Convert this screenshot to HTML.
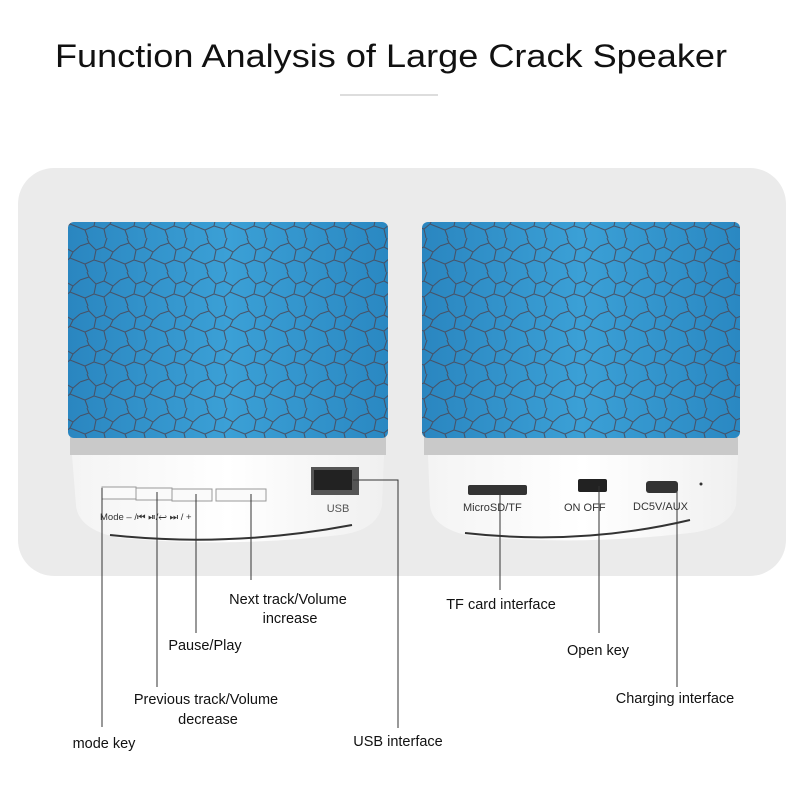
<!DOCTYPE html>
<html><head><meta charset="utf-8"><style>
html,body{margin:0;padding:0;background:#fff;}
svg{display:block;}
</style></head><body>
<svg width="800" height="800" viewBox="0 0 800 800" xmlns="http://www.w3.org/2000/svg" font-family="Liberation Sans, sans-serif">
<defs>
<linearGradient id="blue" x1="0" x2="1" y1="0" y2="0">
<stop offset="0" stop-color="#2a86c0"/><stop offset="0.5" stop-color="#3ba0d6"/><stop offset="1" stop-color="#2a88c2"/>
</linearGradient>
<pattern id="crack" width="40" height="34" patternUnits="userSpaceOnUse">
<path d="M0 8 L9 5 L16 12 L24 9 L33 14 L40 8 M9 5 L7 0 M16 12 L14 22 L5 26 L0 24 M14 22 L24 25 L30 20 L33 14 M24 25 L26 34 M30 20 L40 24 M5 26 L8 34 M24 9 L27 0" stroke="#4a4a5a" stroke-width="1.1" fill="none" opacity="0.85"/>
</pattern>
<linearGradient id="base" x1="0" x2="1"><stop offset="0" stop-color="#f4f4f4"/><stop offset="0.5" stop-color="#fff"/><stop offset="1" stop-color="#f0f0f0"/></linearGradient>
</defs>
<rect width="800" height="800" fill="#fff"/>
<text x="391" y="67" font-size="32" text-anchor="middle" textLength="672" lengthAdjust="spacingAndGlyphs" fill="#111">Function Analysis of Large Crack Speaker</text>
<line x1="340" y1="95" x2="438" y2="95" stroke="#bbb" stroke-width="1"/>
<rect x="18" y="168" width="768" height="408" rx="36" fill="#ebebeb"/>

<!-- left speaker -->
<path d="M72 455 L384 455 L382 505 Q378 530 340 535 Q230 548 120 538 Q78 530 76 505 Z" fill="url(#base)"/>
<path d="M110 535 Q230 548 352 525" stroke="#333" stroke-width="2" fill="none"/>
<rect x="70" y="437" width="316" height="18" fill="#c9c9c9"/>
<rect x="68" y="222" width="320" height="216" rx="6" fill="url(#blue)"/>
<rect x="68" y="222" width="320" height="216" rx="6" fill="url(#crack)"/>
<rect x="311" y="467" width="48" height="28" fill="#555"/>
<rect x="314" y="470" width="38" height="20" fill="#222"/>
<text x="338" y="512" font-size="11" fill="#555" text-anchor="middle">USB</text>
<g stroke="#999" fill="#fafafa">
<rect x="102" y="487" width="34" height="12"/><rect x="136" y="488" width="36" height="12"/><rect x="172" y="489" width="40" height="12"/><rect x="216" y="489" width="50" height="12"/>
</g>
<text x="100" y="520" font-size="9.5" fill="#333">Mode – /⏮   ⏯/↩    ⏭ / +</text>

<!-- right speaker -->
<path d="M428 455 L738 455 L736 505 Q730 528 690 533 Q580 546 470 536 Q432 528 430 505 Z" fill="url(#base)"/>
<path d="M465 533 Q580 546 690 520" stroke="#333" stroke-width="2" fill="none"/>
<rect x="424" y="437" width="314" height="18" fill="#c9c9c9"/>
<rect x="422" y="222" width="318" height="216" rx="6" fill="url(#blue)"/>
<rect x="422" y="222" width="318" height="216" rx="6" fill="url(#crack)"/>
<rect x="468" y="485" width="59" height="10" rx="2" fill="#333"/>
<rect x="578" y="479" width="29" height="13" rx="2" fill="#222"/>
<rect x="646" y="481" width="32" height="12" rx="3" fill="#333"/>
<circle cx="701" cy="484" r="1.5" fill="#333"/>
<text x="463" y="511" font-size="11" fill="#333">MicroSD/TF</text>
<text x="564" y="511" font-size="11" fill="#333">ON  OFF</text>
<text x="633" y="510" font-size="11" fill="#333">DC5V/AUX</text>

<!-- connector lines -->
<g stroke="#333" stroke-width="1" fill="none">
<line x1="102" y1="488" x2="102" y2="727"/>
<line x1="157" y1="492" x2="157" y2="687"/>
<line x1="196" y1="494" x2="196" y2="633"/>
<line x1="251" y1="494" x2="251" y2="580"/>
<polyline points="353,480 398,480 398,728"/>
<line x1="500" y1="492" x2="500" y2="590"/>
<line x1="599" y1="486" x2="599" y2="633"/>
<line x1="677" y1="488" x2="677" y2="687"/>
</g>

<g font-size="14.5" fill="#111" text-anchor="middle">
<text x="288" y="604">Next track/Volume</text>
<text x="290" y="623">increase</text>
<text x="205" y="650">Pause/Play</text>
<text x="206" y="704">Previous track/Volume</text>
<text x="208" y="724">decrease</text>
<text x="104" y="748">mode key</text>
<text x="398" y="746">USB interface</text>
<text x="501" y="609">TF card interface</text>
<text x="598" y="655">Open key</text>
<text x="675" y="703">Charging interface</text>
</g>
</svg>
</body></html>
